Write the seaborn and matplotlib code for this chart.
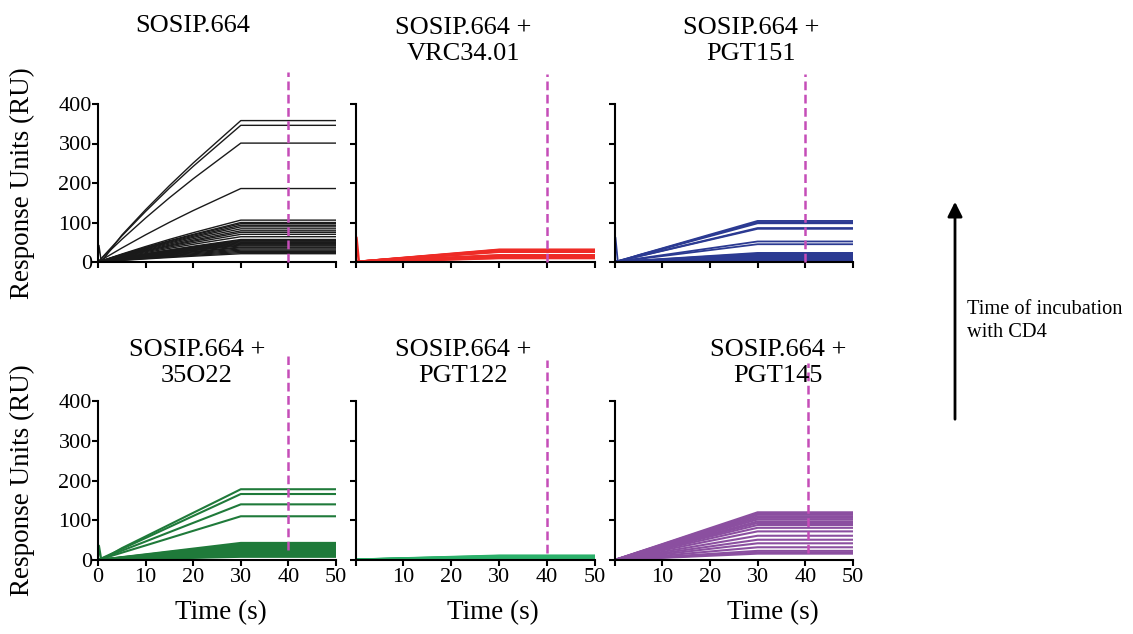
import matplotlib
matplotlib.use("Agg")
import matplotlib.pyplot as plt
from matplotlib.patches import FancyArrowPatch
import numpy as np
import pandas as pd
import seaborn as sns

# ---- data -----------------------------------------------------------------
panel_titles = [
    "SOSIP.664",
    "SOSIP.664 +\nVRC34.01",
    "SOSIP.664 +\nPGT151",
    "SOSIP.664 +\n35O22",
    "SOSIP.664 +\nPGT122",
    "SOSIP.664 +\nPGT145",
]
panel_colors = ["#1a1a1a", "#ee2b26", "#2b3a92", "#1f7a3a", "#2bb06a", "#8b4fa0"]

# association phase time points (s) and dissociation phase time points (s)
assoc_times = [0, 5, 10, 15, 20, 25, 30]
dissoc_times = [35, 40, 45, 50]

# fraction of the 30 s response reached during association
profile_curved = [0.0, 0.19, 0.37, 0.54, 0.70, 0.85, 1.0]
profile_linear = [0.0, 0.167, 0.333, 0.5, 0.667, 0.833, 1.0]

# response (RU) at the end of association for each CD4 incubation time
ru_sosip = [358, 346, 301, 186, 106, 100, 97, 93, 89, 84, 79, 75, 70, 64, 57,
            55, 53, 51, 49, 47, 45, 43, 41, 38, 36, 33, 30, 27, 24, 21]
ru_vrc34 = [31, 30, 29, 28, 27, 26, 17, 16, 15, 14, 13, 12, 11, 10]
ru_pgt151 = [104, 101, 98, 86, 84, 52, 45, 23, 21, 19, 17, 15, 13, 11, 9, 7, 5, 4]
ru_35o22 = [178, 166, 140, 110, 43, 40, 37, 34, 31, 28, 25, 22, 19, 16, 13, 10, 8]
ru_pgt122 = [10, 9, 8, 7, 6, 5, 4, 3, 2]
ru_pgt145 = [120, 117, 114, 110, 106, 102, 97, 93, 88, 81, 72, 61, 51, 42, 32,
             23, 19, 16]

# injection artefact height at t = 0 (RU)
spike_ru = [42, 62, 62, 36, 0, 0]

panel_ru = [ru_sosip, ru_vrc34, ru_pgt151, ru_35o22, ru_pgt122, ru_pgt145]
panel_profiles = [profile_curved, profile_linear, profile_linear,
                  profile_linear, profile_linear, profile_linear]
panel_lw = [1.0, 1.8, 1.3, 1.5, 2.2, 1.5]

# end of injection marker (s) and its vertical extent (fraction of axis)
marker_time = [40, 40, 40, 40, 40, 40.5]
marker_span = [(0, 1.20), (0, 1.19), (0, 1.19),
               (0.06, 1.28), (0.045, 1.26), (0.045, 1.24)]

y_ticks = [0, 100, 200, 300, 400]
x_ticks = [0, 10, 20, 30, 40, 50]

# ---- figure ---------------------------------------------------------------
sns.set_theme(style="ticks")
plt.rcParams["font.family"] = ["Liberation Serif", "DejaVu Serif"]
plt.rcParams["text.color"] = "black"
plt.rcParams["axes.labelcolor"] = "black"

W, H = 1133, 634
fig = plt.figure(figsize=(W / 100, H / 100), dpi=100)


def fx(px):
    return px / W


def fy(py):
    return 1 - py / H


col_px = [(98, 336), (355.5, 595), (614.5, 853)]
row_px = [(104, 262), (401, 560)]

axes = []
for r, (top, bot) in enumerate(row_px):
    for c, (left, right) in enumerate(col_px):
        ax = fig.add_axes([fx(left), fy(bot), fx(right - left), (bot - top) / H])
        axes.append(ax)


def build_frame(ru_list, profile, spike):
    rows = []
    for i, ru in enumerate(ru_list):
        ts = [0.0]
        ys = [0.0]
        if i == 0 and spike > 0:
            ts += [0.2, 0.7]
            ys += [spike, 0.0]
        for t, f in zip(assoc_times[1:], profile[1:]):
            ts.append(t)
            ys.append(ru * f)
        for t in dissoc_times:
            ts.append(t)
            ys.append(ru)
        for t, y in zip(ts, ys):
            rows.append({"curve": i, "time": t, "ru": y})
    return pd.DataFrame(rows)


for k, ax in enumerate(axes):
    df = build_frame(panel_ru[k], panel_profiles[k], spike_ru[k])
    sns.lineplot(data=df, x="time", y="ru", units="curve", estimator=None,
                 color=panel_colors[k], lw=panel_lw[k], ax=ax, legend=False,
                 sort=False)
    ymin, ymax = marker_span[k]
    ax.axvline(marker_time[k], ymin=ymin, ymax=ymax, color="#c54db8",
               lw=1.8, ls=(0, (3.5, 1.8)), clip_on=False, zorder=5)

    ax.set_xlim(0, 50)
    ax.set_ylim(0, 400)
    ax.set_xticks(x_ticks)
    ax.set_yticks(y_ticks)
    ax.set_xlabel("")
    ax.set_ylabel("")
    for s in ["top", "right"]:
        ax.spines[s].set_visible(False)
    for s in ["left", "bottom"]:
        ax.spines[s].set_linewidth(1.5)
        ax.spines[s].set_color("black")
    ax.tick_params(axis="both", direction="out", length=4, width=1.5,
                   color="black", labelsize=16, labelcolor="black")
    ax.tick_params(axis="y", pad=0.5)
    ax.tick_params(axis="x", pad=2)

    row, col = divmod(k, 3)
    if col != 0:
        ax.set_yticklabels([])
    if row == 0:
        ax.set_xticklabels([])
    elif col != 0:
        ax.set_xticklabels([""] + [str(v) for v in x_ticks[1:]])

# panel titles
title_pos = [(193, 26), (463, 41), (751, 41), (197, 363), (463, 363), (778, 363)]
for k, (tx, ty) in enumerate(title_pos):
    fig.text(fx(tx), fy(ty), panel_titles[k], ha="center", va="center",
             fontsize=19, linespacing=1.2, color="black")

# axis titles
for ty in [183, 480]:
    fig.text(fx(22), fy(ty), "Response Units (RU)", rotation=90,
             ha="center", va="center", fontsize=19.5, color="black")
for tx in [221, 493, 773]:
    fig.text(fx(tx), fy(613), "Time (s)", ha="center", va="center",
             fontsize=19.5, color="black")

# incubation-time arrow
fig.add_artist(FancyArrowPatch((fx(955), fy(422)), (fx(955), fy(199)),
                               transform=fig.transFigure, arrowstyle="-|>",
                               mutation_scale=22, lw=2, color="black"))
fig.text(fx(967), fy(321), "Time of incubation\nwith CD4", ha="left",
         va="center", fontsize=14.7, linespacing=1.35, color="black")

fig.savefig("out.png", dpi=100, facecolor="white")
